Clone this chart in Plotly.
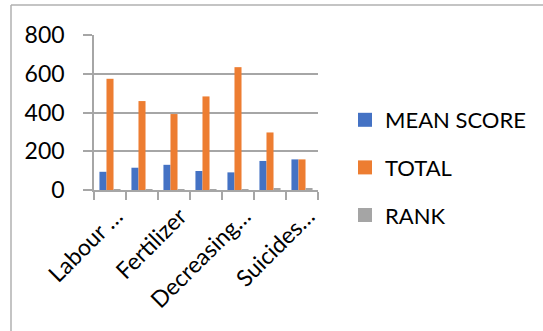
import plotly.graph_objects as go

categories = ["Labour shortage", "Labour cost", "Fertilizer", "Pesticides", "Decreasing yield", "Debt", "Suicides of farmers"]
tick_labels = ["Labour …", "", "Fertilizer", "", "Decreasing…", "", "Suicides…"]
mean_score = [94, 115, 130, 98, 91, 150, 158]
total = [574, 459, 392, 483, 634, 297, 158]
rank = [2, 4, 5, 3, 1, 6, 7]
series_names = ["MEAN SCORE", "TOTAL", "RANK"]
colors = ["#4472C4", "#ED7D31", "#A5A5A5"]

FONT = "Lato"
W, H = 543, 331
L, R, T, B = 94, 225, 35, 141
pw, ph = W - L - R, H - T - B

fig = go.Figure()
for name, vals, col in zip(series_names, [mean_score, total, rank], colors):
    fig.add_trace(go.Bar(x=categories, y=vals, name=name, marker=dict(color=col, line=dict(width=0)),
                         showlegend=False))
# legend entries with larger square markers
for i, (name, col) in enumerate(zip(series_names, colors)):
    fig.add_trace(go.Scatter(x=[None], y=[None], mode="markers", name=name, legendgroup=f"g{i}",
                             marker=dict(symbol="square", size=14, color=col)))

grid = "#A6A6A6"
def px_x(p):
    return (p - L) / pw
def px_y(p):
    return (H - B - p) / ph

fig.update_layout(
    width=W, height=H,
    margin=dict(l=L, r=R, t=T, b=B, pad=0),
    paper_bgcolor="white", plot_bgcolor="white",
    font=dict(family=FONT, size=22, color="#000000"),
    barmode="group", bargap=0.34, bargroupgap=0,
    xaxis=dict(type="category", tickmode="array", tickvals=categories, ticktext=tick_labels,
               tickangle=-45, ticks="outside", tickson="boundaries", ticklen=8, tickcolor=grid,
               tickwidth=1.5, showline=True, linecolor=grid, linewidth=1.5, showgrid=False,
               ticklabelshift=6, ticklabelstandoff=2,
               tickfont=dict(size=23, family=FONT)),
    yaxis=dict(range=[0, 800], dtick=200, tickmode="linear", showgrid=True, gridcolor=grid, gridwidth=1.5,
               ticks="outside", ticklen=9, tickcolor=grid, tickwidth=1.5, showline=True, linecolor=grid,
               linewidth=1.5, zeroline=False, ticklabelstandoff=14, tickfont=dict(size=23, family=FONT)),
    legend=dict(x=px_x(345), y=px_y(99), xanchor="left", yanchor="top", tracegroupgap=16,
                font=dict(size=22, family=FONT), bgcolor="rgba(0,0,0,0)"),
    shapes=[
        dict(type="line", xref="paper", yref="paper", x0=px_x(11), x1=px_x(11), y0=px_y(5), y1=px_y(340),
             line=dict(color="#B0B0B0", width=1.5)),
        dict(type="line", xref="paper", yref="paper", x0=px_x(11), x1=px_x(550), y0=px_y(5), y1=px_y(5),
             line=dict(color="#B0B0B0", width=1.5)),
    ],
)
fig.write_html("out.html")
